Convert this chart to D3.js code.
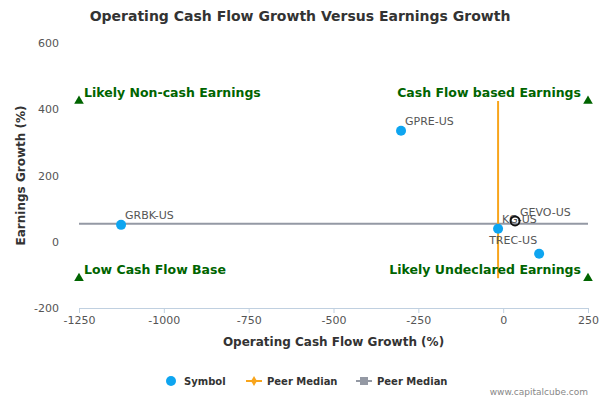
<!DOCTYPE html>
<html><head><meta charset="utf-8">
<script src="https://cdn.jsdelivr.net/npm/d3@7"></script>
<style>body{margin:0;background:#fff}text{font-family:"DejaVu Sans",sans-serif}</style>
</head><body><div id="wrapper"></div>
<script>
const symbols = ["GRBK-US", "GPRE-US", "KG-US", "TREC-US"]
const cashFlow = [-1126, -301, -15, 106]
const earnings = [51, 335, 39, -36]
const focus = {name: "GEVO-US", x: 35, y: 63}
const peerMedianX = -15
const peerMedianY = 54
const corners = [
  {label: "Likely Non-cash Earnings", x: -1250, y: 425, anchor: "start"},
  {label: "Cash Flow based Earnings", x: 250, y: 425, anchor: "end"},
  {label: "Low Cash Flow Base", x: -1250, y: -110, anchor: "start"},
  {label: "Likely Undeclared Earnings", x: 250, y: -110, anchor: "end"},
]
const xTicks = [-1250, -1000, -750, -500, -250, 0, 250]
const yTicks = [-200, 0, 200, 400, 600]

const dimensions = {width: 600, height: 400, margin: {top: 43, right: 12, bottom: 92, left: 79}}
dimensions.boundedWidth = dimensions.width - dimensions.margin.left - dimensions.margin.right
dimensions.boundedHeight = dimensions.height - dimensions.margin.top - dimensions.margin.bottom

const svg = d3.select("#wrapper").append("svg")
  .attr("width", dimensions.width).attr("height", dimensions.height)
const bounds = svg.append("g")
  .attr("transform", `translate(${dimensions.margin.left},${dimensions.margin.top})`)

const xScale = d3.scaleLinear().domain([-1250, 250]).range([0, dimensions.boundedWidth])
const yScale = d3.scaleLinear().domain([-200, 600]).range([dimensions.boundedHeight, 0])

svg.append("text").attr("x", 300).attr("y", 21).attr("text-anchor", "middle")
  .style("font-size", "14px").style("font-weight", "bold").attr("fill", "#333")
  .text("Operating Cash Flow Growth Versus Earnings Growth")

// axes, plain hyphen minus like the original
const fmt = d => String(d)
const xAxis = bounds.append("g").attr("transform", `translate(0,${dimensions.boundedHeight})`)
  .call(d3.axisBottom(xScale).tickValues(xTicks).tickSize(5).tickFormat(fmt))
xAxis.select(".domain").attr("stroke", "#c0d0e0")
xAxis.selectAll(".tick line").attr("stroke", "#c0d0e0")
xAxis.selectAll("text").attr("fill", "#555").style("font-size", "11px")
const yAxis = bounds.append("g")
  .call(d3.axisLeft(yScale).tickValues(yTicks).tickSize(0).tickPadding(20).tickFormat(fmt))
yAxis.select(".domain").remove()
yAxis.selectAll("text").attr("fill", "#555").style("font-size", "11px")

svg.append("text").attr("x", dimensions.margin.left + dimensions.boundedWidth / 2).attr("y", 346)
  .attr("text-anchor", "middle").style("font-size", "12px").style("font-weight", "bold").attr("fill", "#333")
  .text("Operating Cash Flow Growth (%)")
svg.append("text").attr("transform", `translate(25,${dimensions.margin.top + dimensions.boundedHeight / 2}) rotate(-90)`)
  .attr("text-anchor", "middle").style("font-size", "12px").style("font-weight", "bold").attr("fill", "#333")
  .text("Earnings Growth (%)")

// peer medians
bounds.append("line").attr("x1", 0).attr("x2", dimensions.boundedWidth)
  .attr("y1", yScale(peerMedianY)).attr("y2", yScale(peerMedianY)).attr("stroke", "#9499a4").attr("stroke-width", 2)
bounds.append("line").attr("x1", xScale(peerMedianX)).attr("x2", xScale(peerMedianX))
  .attr("y1", yScale(425)).attr("y2", yScale(-110)).attr("stroke", "#f8a51c").attr("stroke-width", 2)

// corner labels
corners.forEach(c => {
  bounds.append("path").attr("d", d3.symbol(d3.symbolTriangle, 40)())
    .attr("transform", `translate(${xScale(c.x)},${yScale(c.y)})`).attr("fill", "#006400")
  bounds.append("text").attr("x", xScale(c.x) + (c.anchor === "start" ? 5 : -7)).attr("y", yScale(c.y) - 4)
    .attr("text-anchor", c.anchor).attr("fill", "#006400").style("font-size", "12.5px").style("font-weight", "bold")
    .text(c.label)
})

// points
symbols.forEach((s, i) => {
  bounds.append("circle").attr("cx", xScale(cashFlow[i])).attr("cy", yScale(earnings[i])).attr("r", 5).attr("fill", "#0ea5f0")
  const below = s === "TREC-US"
  bounds.append("text").attr("x", xScale(cashFlow[i]) + (below ? -2 : 4)).attr("y", yScale(earnings[i]) + (below ? -10 : -6))
    .attr("text-anchor", below ? "end" : "start").attr("fill", "#555").style("font-size", "11px").text(s)
})
bounds.append("circle").attr("cx", xScale(focus.x)).attr("cy", yScale(focus.y)).attr("r", 4.5)
  .attr("fill", "none").attr("stroke", "#111").attr("stroke-width", 2)
bounds.append("text").attr("x", xScale(focus.x) + 5).attr("y", yScale(focus.y) - 5)
  .attr("fill", "#555").style("font-size", "11px").text(focus.name)

// legend
const legend = svg.append("g").style("font-size", "10px").style("font-weight", "bold").attr("fill", "#333")
legend.append("circle").attr("cx", 171).attr("cy", 381).attr("r", 5).attr("fill", "#0ea5f0")
legend.append("text").attr("x", 184).attr("y", 385).text("Symbol")
legend.append("line").attr("x1", 246).attr("x2", 262).attr("y1", 381).attr("y2", 381).attr("stroke", "#f8a51c").attr("stroke-width", 2)
legend.append("path").attr("d", d3.symbol(d3.symbolDiamond, 30)()).attr("transform", "translate(254,381)").attr("fill", "#f8a51c")
legend.append("text").attr("x", 267).attr("y", 385).text("Peer Median")
legend.append("line").attr("x1", 356).attr("x2", 372).attr("y1", 381).attr("y2", 381).attr("stroke", "#9499a4").attr("stroke-width", 2)
legend.append("rect").attr("x", 360).attr("y", 377).attr("width", 8).attr("height", 8).attr("fill", "#9499a4")
legend.append("text").attr("x", 377).attr("y", 385).text("Peer Median")
svg.append("text").attr("x", 588).attr("y", 395).attr("text-anchor", "end").attr("fill", "#888")
  .style("font-size", "9px").text("www.capitalcube.com")
</script></body></html>
